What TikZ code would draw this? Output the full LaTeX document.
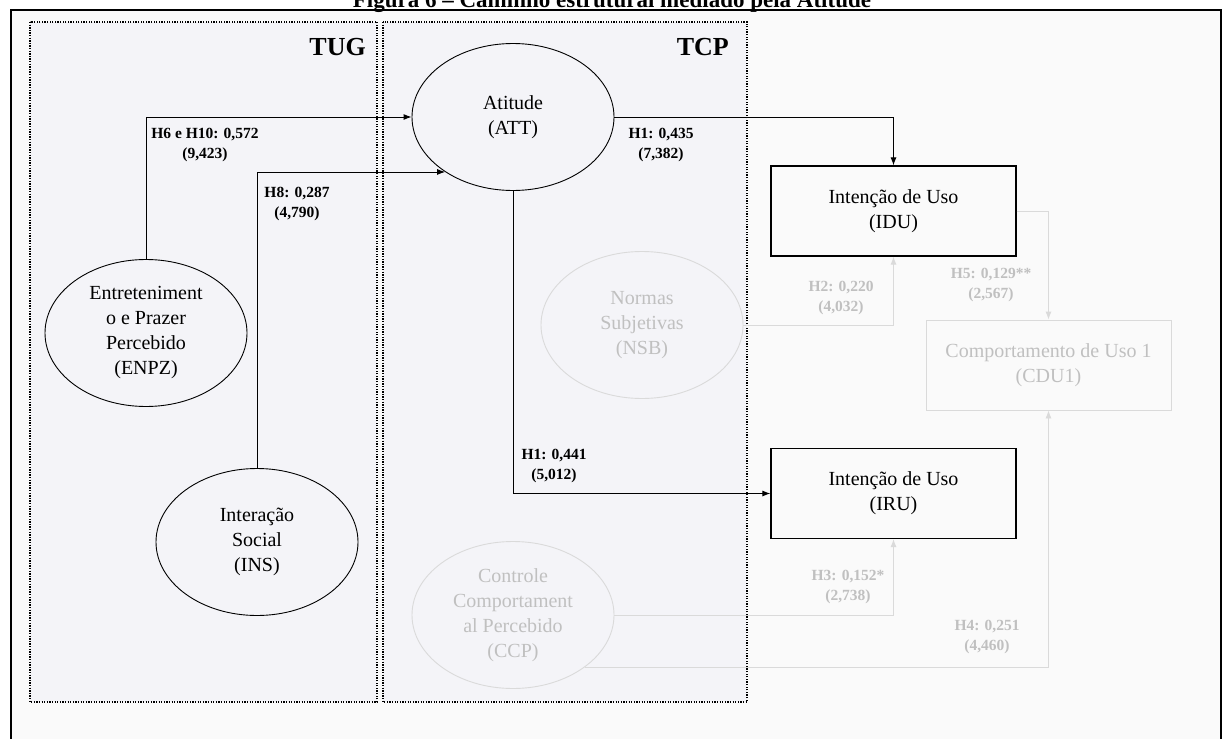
\documentclass[tikz,border=0pt]{standalone}
\usepackage{fontspec}
\setmainfont{Liberation Serif}
\usetikzlibrary{shapes.geometric,arrows.meta}
\definecolor{panel}{RGB}{244,244,248}
\definecolor{paper}{RGB}{250,250,250}
\definecolor{faint}{RGB}{218,218,218}
\definecolor{fainttext}{RGB}{192,192,192}
\begin{document}
\begin{tikzpicture}[x=1pt,y=-1pt,
  construct/.style={ellipse, draw, line width=0.9pt, minimum width=202pt,
    minimum height=147pt, inner sep=0pt, align=center,
    font=\fontsize{20}{25}\selectfont},
  measure/.style={rectangle, draw, line width=1.2pt, minimum width=245pt,
    minimum height=90pt, inner sep=0pt, align=center,
    font=\fontsize{20}{25}\selectfont},
  muted/.style={draw=faint, text=fainttext},
  link/.style={line width=0.9pt, -{Latex[length=8pt,width=6pt]}},
  coef/.style={align=center, inner sep=0pt,
    font=\bfseries\fontsize{15.5}{20}\selectfont},
  theory/.style={draw, line width=1.6pt, dash pattern=on 1.3pt off 1.3pt, fill=panel},
  theorytag/.style={anchor=east, inner sep=0pt, font=\bfseries\fontsize{26}{30}\selectfont},
]
\useasboundingbox (0,0) rectangle (1224,739);
\begin{scope}
\clip (0,0) rectangle (1224,739);
% page and figure caption (the caption runs off the top of the page)
\fill[white] (0,0) rectangle (1224,739);
\fill[paper] (11,10) rectangle (1221,739);
\node[anchor=base, inner sep=0pt, font=\bfseries\fontsize{23}{27}\selectfont] (title)
  at (612,7) {Figura 6 – Caminho estrutural mediado pela Atitude};
\draw[line width=2.5pt] (11,745) -- (11,10) -- (1221,10) -- (1221,745);

% theory panels
\draw[theory] (30,22) rectangle (377,702);
\draw[theory] (383,22) rectangle (747,702);
\node[theorytag] (tug) at (366,47) {TUG};
\node[theorytag] (tcp) at (729,47) {TCP};

% constructs
\node[construct] (att) at (513,117) {Atitude\\(ATT)};
\node[construct] (enpz) at (146,333) {Entreteniment\\o e Prazer\\Percebido\\(ENPZ)};
\node[construct] (ins) at (257,542) {Interação\\Social\\(INS)};
\node[construct, muted] (nsb) at (642,325) {Normas\\Subjetivas\\(NSB)};
\node[construct, muted] (ccp) at (513,615) {Controle\\Comportament\\al Percebido\\(CCP)};
\node[measure] (idu) at (893.5,211) {Intenção de Uso\\(IDU)};
\node[measure] (iru) at (893.5,493.5) {Intenção de Uso\\(IRU)};
\node[measure, muted, line width=0.9pt] (cdu) at (1048.5,365) {Comportamento de Uso 1\\(CDU1)};

% structural paths
\draw[link] (enpz) |- (att);
\draw[link] (ins) |- (att.219);
\draw[link] (att) -| (idu);
\draw[link] (att) |- (iru);
\draw[link, faint] (nsb) -| (idu);
\draw[link, faint] (idu) -| (cdu);
\draw[link, faint] (ccp) -| (iru);
\draw[link, faint] (ccp.324) -| (cdu);

% path coefficients (t values)
\node[coef] (c1) at (205,145) {H6 e H10: 0,572\\(9,423)};
\node[coef] (c2) at (297,204) {H8: 0,287\\(4,790)};
\node[coef] (c3) at (661,145) {H1: 0,435\\(7,382)};
\node[coef] (c4) at (554,466) {H1: 0,441\\(5,012)};
\node[coef, text=fainttext] (c5) at (841,298) {H2: 0,220\\(4,032)};
\node[coef, text=fainttext] (c6) at (991,285) {H5: 0,129**\\(2,567)};
\node[coef, text=fainttext] (c7) at (848,587) {H3: 0,152*\\(2,738)};
\node[coef, text=fainttext] (c8) at (987,637) {H4: 0,251\\(4,460)};
\end{scope}
\end{tikzpicture}
\end{document}
